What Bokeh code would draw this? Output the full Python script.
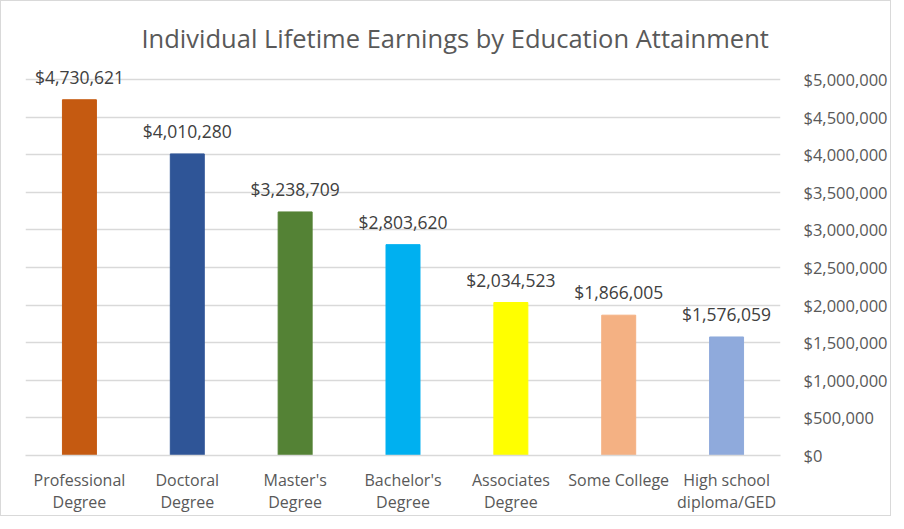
from bokeh.plotting import figure
from bokeh.models import ColumnDataSource, NumeralTickFormatter, FixedTicker, Range1d
from bokeh.core.properties import value
from bokeh.embed import file_html
from bokeh.resources import INLINE

categories = ["Professional\nDegree", "Doctoral\nDegree", "Master's\nDegree", "Bachelor's\nDegree",
              "Associates\nDegree", "Some College", "High school\ndiploma/GED"]
earnings = [4730621, 4010280, 3238709, 2803620, 2034523, 1866005, 1576059]
bar_colors = ["#C55A11", "#2F5597", "#548235", "#00B0F0", "#FFFF00", "#F4B183", "#8FAADC"]
tick_values = [0, 500000, 1000000, 1500000, 2000000, 2500000, 3000000, 3500000, 4000000, 4500000, 5000000]
title_text = "Individual Lifetime Earnings by Education Attainment"

labels = ["${:,}".format(v) for v in earnings]
src = ColumnDataSource(dict(cat=categories, val=earnings, color=bar_colors, label=labels))

FONT = "Open Sans"
p = figure(x_range=categories, y_range=Range1d(0, 5305851),
           width=888, height=513, frame_width=755, frame_height=399,
           y_axis_location="right", output_backend="svg", toolbar_location=None,
           title=title_text, min_border_left=24, min_border_top=55,
           min_border_right=109, min_border_bottom=59)

p.vbar(x="cat", top="val", width=0.315, color="color", source=src)
p.text(x="cat", y="val", text="label", source=src, text_align="center", text_baseline="bottom",
       y_offset=-11, text_font=value(FONT), text_font_size="17.5px", text_color="#404040")

p.title.align = "left"
p.title.offset = 116
p.title.text_font = FONT
p.title.text_font_size = "25.5px"
p.title.text_font_style = "normal"
p.title.text_color = "#595959"
p.title.standoff = 3

p.yaxis.ticker = FixedTicker(ticks=tick_values)
p.yaxis.formatter = NumeralTickFormatter(format="$0,0")
p.yaxis.axis_line_color = None
p.yaxis.major_tick_line_color = None
p.yaxis.minor_tick_line_color = None
p.yaxis.major_label_standoff = 17
p.yaxis.major_label_text_font = FONT
p.yaxis.major_label_text_font_size = "16.5px"
p.yaxis.major_label_text_color = "#595959"

p.xaxis.axis_line_color = "#D9D9D9"
p.xaxis.axis_line_width = 1.5
p.xaxis.major_tick_line_color = None
p.xaxis.minor_tick_line_color = None
p.xaxis.major_label_standoff = 7
p.xaxis.major_label_text_font = FONT
p.xaxis.major_label_text_font_size = "16px"
p.xaxis.major_label_text_line_height = 1.0
p.xaxis.major_label_text_color = "#595959"

p.xgrid.grid_line_color = None
p.ygrid.grid_line_color = "#D9D9D9"
p.ygrid.grid_line_width = 1.5
p.outline_line_color = None
p.x_range.range_padding = 0
p.background_fill_color = "white"
p.border_fill_color = "white"
p.styles = {"border": "1px solid #D9D9D9"}

open("out.html", "w").write(file_html(p, INLINE))
